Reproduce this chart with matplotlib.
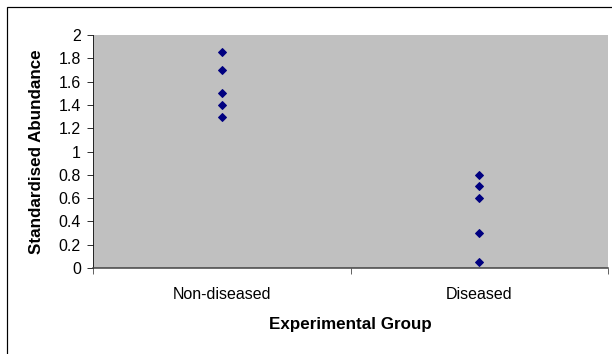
import numpy as np
import matplotlib.pyplot as plt
from matplotlib.patches import Rectangle

plt.rcParams['font.family'] = ['Liberation Sans', 'DejaVu Sans']

groups = ['Non-diseased', 'Diseased']
non_diseased = [1.85, 1.7, 1.5, 1.4, 1.3]
diseased = [0.8, 0.7, 0.6, 0.3, 0.05]
yticks = np.arange(0, 2.01, 0.2)
ytick_labels = ['0', '0.2', '0.4', '0.6', '0.8', '1', '1.2', '1.4', '1.6', '1.8', '2']

W, H = 612, 354
fig = plt.figure(figsize=(W / 72, H / 72), dpi=72)
fig.patch.set_facecolor('white')

# outer chart border (Excel style), runs off the right/bottom edges
fig.patches.append(Rectangle((7 / W, -0.1), 1.2, (H - 7) / H + 0.1,
                             transform=fig.transFigure, fill=False,
                             edgecolor='black', linewidth=1.2))

ax = fig.add_axes([93 / W, (H - 268) / H, (608 - 93) / W, (268 - 35) / H])
ax.set_facecolor('#c0c0c0')

for i, vals in enumerate([non_diseased, diseased]):
    ax.plot([i + 1] * len(vals), vals, linestyle='none', marker='D',
            markersize=5, color='#000080')

ax.set_xlim(0.5, 2.5)
ax.set_ylim(0, 2)
ax.set_yticks(yticks)
ax.set_yticklabels(ytick_labels, fontsize=16)
ax.set_xticks([1, 2])
ax.set_xticklabels(groups, fontsize=16)
ax.set_xticks([0.5, 1.5, 2.5], minor=True)
ax.tick_params(axis='x', which='major', length=0, pad=19)
ax.tick_params(axis='x', which='minor', length=6, direction='out', color='black')
ax.tick_params(axis='y', length=6, direction='out', pad=6, color='black')

for s in ['top', 'right']:
    ax.spines[s].set_visible(False)
ax.spines['left'].set_color('black')
ax.spines['bottom'].set_color('#404040')
ax.spines['bottom'].set_linewidth(1.5)

ax.set_xlabel('Experimental Group', fontsize=17, fontweight='bold', labelpad=15)
ax.set_ylabel('Standardised Abundance', fontsize=17, fontweight='bold', labelpad=15)

fig.savefig('out.png', dpi=72)
